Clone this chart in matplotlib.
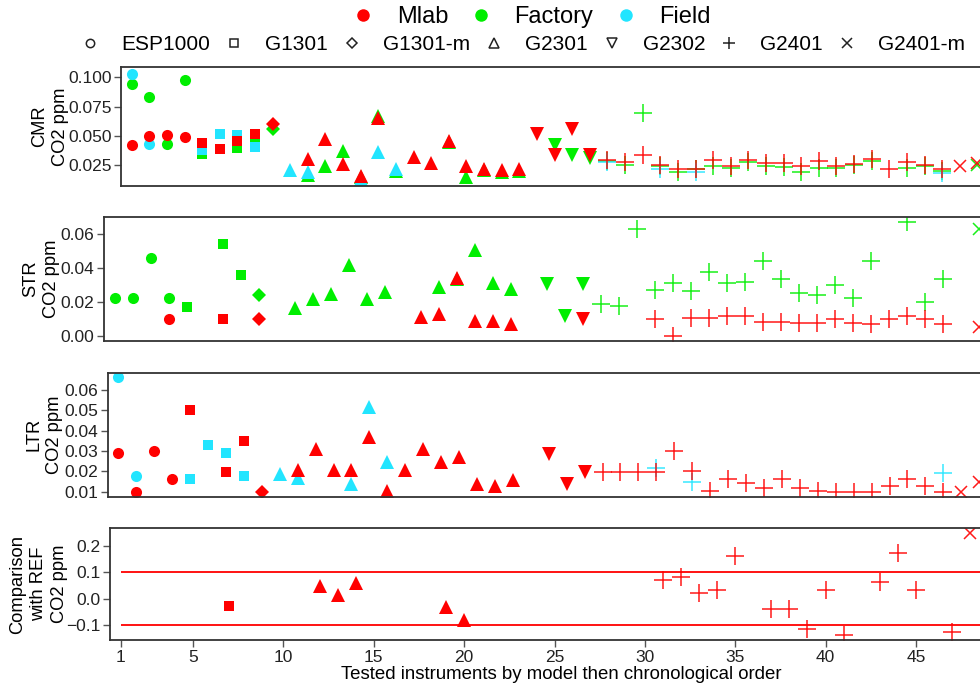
import numpy as np
import matplotlib
matplotlib.use("Agg")
import matplotlib.pyplot as plt
from matplotlib.lines import Line2D

plt.rcParams['font.family'] = ['Liberation Sans', 'DejaVu Sans']

nan = np.nan

# instrument index 1..49, grouped by model then chronological order
models = ["ESP1000", "G1301", "G1301-m", "G2301", "G2302", "G2401", "G2401-m"]
model_of = (["ESP1000"] * 4 + ["G1301"] * 4 + ["G1301-m"] * 1 + ["G2301"] * 14
            + ["G2302"] * 4 + ["G2401"] * 20 + ["G2401-m"] * 2)
instrument = list(range(1, 50))

sites = ["Mlab", "Factory", "Field"]

# CMR, CO2 ppm
cmr_mlab = [0.042, 0.050, 0.051, 0.049, 0.044, 0.039, 0.046, 0.052, 0.060, nan,
            0.030, 0.047, 0.026, 0.016, 0.065, nan, 0.032, 0.027, 0.046, 0.024,
            0.022, 0.021, 0.022, 0.052, 0.034, 0.056, 0.034, 0.0295, 0.028, 0.034,
            0.025, 0.022, 0.022, 0.0295, 0.0244, 0.0295, 0.027, 0.027, 0.0244, 0.0287,
            0.0247, 0.026, 0.030, 0.0217, 0.028, 0.0253, 0.0216, 0.0244, 0.027]
cmr_factory = [0.094, 0.083, 0.043, 0.098, 0.035, nan, 0.040, 0.049, 0.056, nan,
               0.017, 0.024, 0.037, 0.015, 0.067, 0.020, nan, nan, 0.045, 0.015,
               0.021, 0.019, 0.020, nan, 0.042, 0.034, 0.031, 0.0287, 0.025, 0.070,
               0.024, 0.0195, 0.0216, 0.0244, 0.023, 0.028, 0.024, 0.0235, 0.019, 0.023,
               0.0224, 0.025, 0.0287, nan, 0.023, 0.024, 0.0204, nan, 0.0253]
cmr_field = [0.103, 0.043, nan, nan, 0.038, 0.052, 0.051, 0.041, nan, 0.021,
             0.019, nan, nan, 0.013, 0.036, 0.022, nan, nan, nan, nan,
             nan, nan, nan, nan, nan, nan, nan, 0.028, nan, nan,
             0.022, nan, 0.0195, nan, nan, nan, nan, nan, nan, nan,
             nan, nan, nan, nan, nan, nan, 0.0182, nan, nan]

# STR, CO2 ppm
str_mlab = [nan, nan, nan, 0.010, nan, nan, 0.010, nan, 0.010, nan,
            nan, nan, nan, nan, nan, nan, nan, 0.0108, 0.0126, 0.0342,
            0.0087, 0.0087, 0.0067, nan, nan, nan, 0.0097, nan, nan, nan,
            0.0098, 0.000, 0.0102, 0.0102, 0.0116, 0.0116, 0.0079, 0.0083, 0.0073, 0.0073,
            0.0097, 0.0073, 0.0067, 0.0098, 0.0116, 0.0097, 0.0069, nan, 0.0053]
str_factory = [0.022, 0.022, 0.046, 0.022, 0.017, nan, 0.054, 0.036, 0.024, nan,
               0.0165, 0.0217, 0.0246, 0.0415, 0.0215, 0.0256, nan, nan, 0.0285, 0.0334,
               0.0506, 0.0309, 0.0276, nan, 0.0305, 0.0116, 0.0305, 0.0187, 0.0177, 0.0628,
               0.027, 0.0309, 0.0266, 0.0374, 0.0313, 0.0319, 0.0441, 0.0333, 0.025, 0.024,
               0.0299, 0.0221, 0.0441, nan, 0.0669, 0.0201, 0.0333, nan, 0.0628]
str_field = [nan] * 49

# LTR, CO2 ppm
ltr_mlab = [0.0289, 0.010, 0.0302, 0.0162, 0.0502, nan, 0.0198, 0.0351, 0.010, nan,
            0.0207, 0.0308, 0.0207, 0.0207, 0.0367, 0.0105, 0.0207, 0.0308, 0.0247, 0.0269,
            0.0138, 0.0128, 0.0158, nan, 0.0285, 0.0138, 0.0195, 0.0195, 0.0195, 0.0198,
            0.0195, 0.0302, 0.0201, 0.0103, 0.0161, 0.0141, 0.0117, 0.0162, 0.012, 0.0103,
            0.010, 0.010, 0.010, 0.013, 0.0162, 0.013, 0.010, 0.010, 0.0149]
ltr_factory = [nan] * 49
ltr_field = [0.0662, 0.0179, nan, nan, 0.0162, 0.033, 0.0289, 0.0179, nan, 0.0186,
             0.0166, nan, nan, 0.0138, 0.0518, 0.0247, nan, nan, nan, nan,
             nan, nan, nan, nan, nan, nan, nan, nan, nan, nan,
             0.0215, nan, 0.0149, nan, nan, nan, nan, nan, nan, nan,
             nan, nan, nan, nan, nan, nan, 0.019, nan, nan]

# Comparison with REF, CO2 ppm (Mlab only)
ref_mlab = [nan, nan, nan, nan, nan, nan, -0.029, nan, nan, nan,
            nan, 0.047, 0.015, 0.060, nan, nan, nan, nan, -0.032, -0.082,
            nan, nan, nan, nan, nan, nan, nan, nan, nan, nan,
            0.072, 0.082, 0.022, 0.032, 0.161, nan, -0.039, -0.039, -0.115, 0.032,
            -0.137, nan, 0.062, 0.174, 0.032, nan, -0.128, 0.250, nan]
ref_limit = [-0.1, 0.1]

colors = {"Mlab": "#ff0000", "Factory": "#00ee00", "Field": "#22e5ff"}
markers = {"ESP1000": "o", "G1301": "s", "G1301-m": "D", "G2301": "^",
           "G2302": "v", "G2401": "+", "G2401-m": "x"}
msize = {"o": 8, "s": 7.5, "D": 7, "^": 9.5, "v": 9.5, "+": 13, "x": 9}
leg_size = {"o": 6, "s": 5.5, "D": 5.5, "^": 7, "v": 7, "+": 8, "x": 7}

# label, series, (left, right, top, bottom) px, ylim, yticks, yticklabels, labelpad
panels = [
    ("CMR\nCO2 ppm", {"Factory": cmr_factory, "Field": cmr_field, "Mlab": cmr_mlab},
     (121.1, 988, 67, 185.7), (0.0076, 0.1088),
     [0.025, 0.05, 0.075, 0.1], ["0.025", "0.050", "0.075", "0.100"], -1.0),
    ("STR\nCO2 ppm", {"Factory": str_factory, "Field": str_field, "Mlab": str_mlab},
     (104.2, 990, 216.7, 340.7), (-0.0029, 0.0702),
     [0, 0.02, 0.04, 0.06], ["0.00", "0.02", "0.04", "0.06"], 0.5),
    ("LTR\nCO2 ppm", {"Factory": ltr_factory, "Field": ltr_field, "Mlab": ltr_mlab},
     (107.5, 990, 372.7, 496.7), (0.00754, 0.0685),
     [0.01, 0.02, 0.03, 0.04, 0.05, 0.06], ["0.01", "0.02", "0.03", "0.04", "0.05", "0.06"], 0.5),
    ("Comparison\nwith REF\nCO2 ppm", {"Mlab": ref_mlab},
     (110, 999, 528.3, 640), (-0.157, 0.2673),
     [-0.1, 0, 0.1, 0.2], ["\u22120.1", "0.0", "0.1", "0.2"], -1.5),
]

W, H = 980, 685
fig = plt.figure(figsize=(W / 100, H / 100), dpi=100)

x = np.array(instrument)
mod = np.array(model_of)
axes = []
for label, series, (l, r, t, b), ylim, yt, ytl, lpad in panels:
    ax = fig.add_axes([l / W, 1 - b / H, (r - l) / W, (b - t) / H])
    for site, vals in series.items():
        v = np.array(vals, dtype=float)
        for m in models:
            sel = (mod == m) & ~np.isnan(v)
            if not sel.any():
                continue
            mk = markers[m]
            ax.plot(x[sel], v[sel], ls="none", marker=mk, ms=msize[mk],
                    color=colors[site], mew=1.1 if mk in "+x" else 0,
                    alpha=0.9 if mk in "+x" else 1)
    ax.set_xlim(0.4, 49.6)
    ax.set_ylim(*ylim)
    ax.set_yticks(yt)
    ax.set_yticklabels(ytl)
    ax.set_ylabel(label, fontsize=13.2, labelpad=lpad, linespacing=1.3)
    for sp in ax.spines.values():
        sp.set_color("#333333")
        sp.set_linewidth(1.3)
    ax.tick_params(axis="y", length=5, width=1, color="#555555", labelsize=12.5,
                   labelcolor="#222222", pad=2)
    ax.tick_params(axis="x", bottom=False, labelbottom=False)
    axes.append(ax)

ax4 = axes[-1]
ax4.hlines(ref_limit, 1, 49.6, color="#ff0000", lw=1.3, zorder=1)
ax4.set_xticks([1, 5, 10, 15, 20, 25, 30, 35, 40, 45])
ax4.tick_params(axis="x", bottom=True, labelbottom=True, length=5, width=1,
                color="#555555", labelsize=12.5, labelcolor="#222222", pad=2)
ax4.set_xlabel("Tested instruments by model then chronological order", fontsize=13.4, labelpad=1)
ax4.xaxis.set_label_coords((561 - 110) / (999 - 110), -0.23)

# legends
h1 = [Line2D([], [], ls="none", marker="o", ms=9, mew=0, color=colors[s]) for s in sites]
fig.legend(h1, sites, loc="center", bbox_to_anchor=(0.542, 1 - 17 / H), ncol=3,
           frameon=False, fontsize=17, handlelength=1.0, handletextpad=0.94,
           columnspacing=0.86, borderpad=0, borderaxespad=0)
h2 = [Line2D([], [], ls="none", marker=markers[m], ms=leg_size[markers[m]],
             mfc="none", mec="#222222", mew=1.1) for m in models]
fig.legend(h2, models, loc="center", bbox_to_anchor=(0.533, 1 - 45 / H), ncol=7,
           frameon=False, fontsize=15, handlelength=1.0, handletextpad=0.99,
           columnspacing=0.65, borderpad=0, borderaxespad=0)

fig.savefig("out.png", dpi=100)
